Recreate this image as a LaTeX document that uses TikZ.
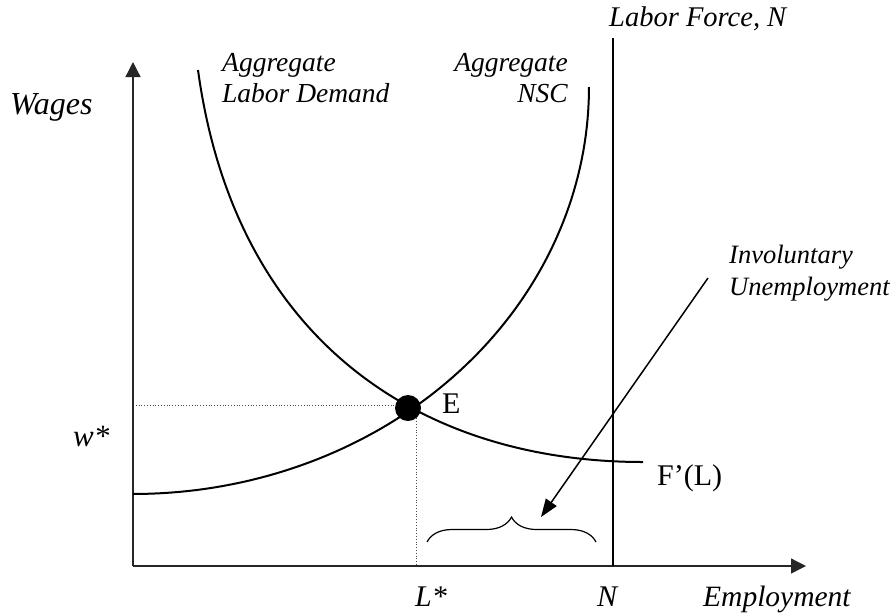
\documentclass[tikz,border=0pt]{standalone}
\usepackage{fontspec}
\setmainfont{Liberation Serif}
\usetikzlibrary{arrows.meta,decorations.pathreplacing}
\begin{document}
\begin{tikzpicture}[x=1pt,y=-1pt,
  lab/.style={inner sep=0pt, font=\fontsize{27.5}{31}\selectfont\itshape},
  axlab/.style={inner sep=0pt, font=\fontsize{30}{34}\selectfont\itshape},
  uplab/.style={inner sep=0pt, font=\fontsize{30}{34}\selectfont},
  curve/.style={line width=2pt},
  axisline/.style={line width=1.3pt, black!85, -{Triangle[length=15pt,width=15pt]}},
  guide/.style={dotted, line width=0.8pt, black!70},
  pointer/.style={line width=1.5pt, -{Triangle[length=18pt,width=13pt]}},
]
\useasboundingbox (0,0) rectangle (893,614);
% coordinates
\coordinate (O) at (133,566);
\coordinate (ytop) at (133,62);
\coordinate (xend) at (806,566);
\coordinate (Ntop) at (613,38);
\coordinate (Nbot) at (613,566);
\coordinate (wstar) at (133,405);
\coordinate (lstar) at (416,566);
\coordinate (lstarE) at (416,410);
\coordinate (bL) at (427,542);
\coordinate (bR) at (596,542);
\coordinate (arrS) at (708,278);
\coordinate (arrT) at (541,517);
\coordinate (dA) at (198,70);
\coordinate (dB) at (643,462);
% guides
\draw[guide] (wstar) -- (409,405);
\draw[guide] (lstarE) -- (lstar);
% axes
\draw[axisline] (O) -- (ytop);
\draw[axisline] (O) -- (xend);
% labor force line
\draw[curve] (Ntop) -- (Nbot);
% NSC curve (quarter ellipse)
\draw[curve] plot[domain=0:90, samples=80] ({133+456*sin(\x)},{87+407*cos(\x)});
% Demand curve
\draw[curve] (dA) .. controls (235,340) and (420,462) .. (dB);
% equilibrium point
\node[circle, fill, minimum size=26pt, inner sep=0pt] (Edot) at (408,408) {};
% brace
\draw[line width=1.2pt, decorate, decoration={brace, amplitude=25pt}] (bL) -- (bR);
% pointer arrow
\draw[pointer] (arrS) -- (arrT);
% labels
\node[axlab, anchor=base west, font=\fontsize{32}{36}\selectfont\itshape] (wages) at (10,114) {Wages};
\node[lab, anchor=base west] (ld1) at (222,71) {Aggregate};
\node[lab, anchor=base west] (ld2) at (222,102) {Labor Demand};
\node[lab, anchor=base east] (ns1) at (568,71) {Aggregate};
\node[lab, anchor=base east] (ns2) at (568,102) {NSC};
\node[lab, anchor=base west, font=\fontsize{28.5}{32}\selectfont\itshape] (lf) at (609,26) {Labor Force, N};
\node[lab, anchor=base west, font=\fontsize{26.5}{30}\selectfont\itshape] (inv1) at (729,263) {Involuntary};
\node[lab, anchor=base west, font=\fontsize{26.5}{30}\selectfont\itshape] (inv2) at (729,295) {Unemployment};
\node[uplab, anchor=base west] (Elab) at (442,413) {E};
\node[uplab, anchor=base west] (FL) at (657,485) {F’(L)};
\node[axlab, anchor=base west, font=\fontsize{31}{34}\selectfont\itshape] (ws) at (73,446) {w*};
\node[axlab, anchor=base west] (ls) at (415,606) {L*};
\node[axlab, anchor=base west] (nl) at (597,606) {N};
\node[axlab, anchor=base west, font=\fontsize{29.5}{34}\selectfont\itshape] (emp) at (703,606) {Employment};
\end{tikzpicture}
\end{document}
